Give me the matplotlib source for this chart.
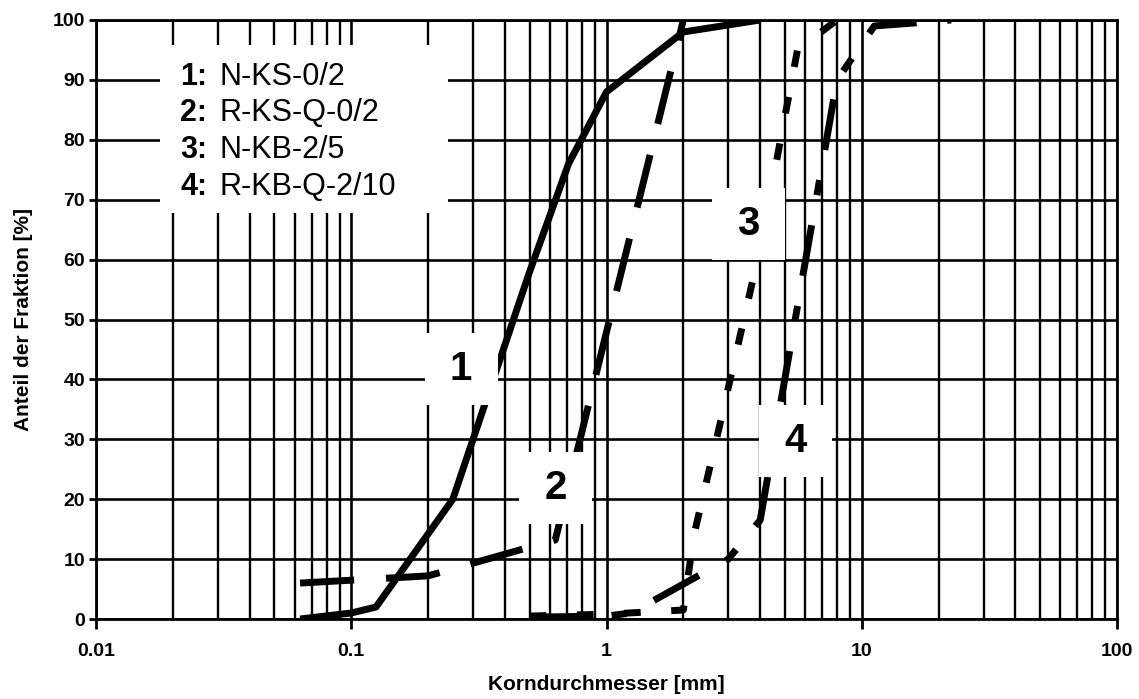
import matplotlib
matplotlib.use("Agg")
import matplotlib.pyplot as plt
from matplotlib.patches import Rectangle
from matplotlib.ticker import FixedLocator, FixedFormatter, NullFormatter, LogLocator

plt.rcParams['font.family'] = ['Liberation Sans', 'DejaVu Sans']
plt.rcParams['lines.scale_dashes'] = False

# ---- data ----
x1 = [0.063, 0.1, 0.125, 0.25, 0.5, 0.71, 1, 2, 4]
y1 = [0, 1, 2, 20, 58, 76, 88, 98, 100]

x2 = [0.063, 0.2, 0.63, 2]
y2 = [6, 7.2, 13.2, 100]

x3 = [0.5, 1, 2, 2.2, 2.8, 4, 5.6, 8]
y3 = [0.5, 0.8, 1.5, 14, 33, 62, 95, 100]

x4 = [0.5, 1, 1.25, 3.0, 4, 8, 11.2, 16, 22.4]
y4 = [0.3, 0.5, 1, 10, 16.5, 90, 99, 99.5, 100]

series_ids = ["1:", "2:", "3:", "4:"]
series_names = ["N-KS-0/2", "R-KS-Q-0/2", "N-KB-2/5", "R-KB-Q-2/10"]
xtick_vals = [0.01, 0.1, 1, 10, 100]
xtick_labels = ["0.01", "0.1", "1", "10", "100"]
ytick_vals = list(range(0, 101, 10))

W, H = 1139, 699
fig = plt.figure(figsize=(W / 100, H / 100), dpi=100)
L, R, T, B = 96, 1117, 20, 619
ax = fig.add_axes([L / W, (H - B) / H, (R - L) / W, (B - T) / H])
ax.set_xscale('log')
ax.set_xlim(0.01, 100)
ax.set_ylim(0, 100)

# grid
ax.xaxis.set_major_locator(FixedLocator(xtick_vals))
ax.xaxis.set_major_formatter(FixedFormatter(xtick_labels))
ax.xaxis.set_minor_locator(LogLocator(base=10, subs=range(2, 10), numticks=20))
ax.xaxis.set_minor_formatter(NullFormatter())
ax.yaxis.set_major_locator(FixedLocator(ytick_vals))
ax.grid(True, which='major', color='black', linewidth=1.9, zorder=1)
ax.grid(True, which='minor', axis='x', color='black', linewidth=1.7, zorder=1)
ax.set_axisbelow(True)
for s in ax.spines.values():
    s.set_linewidth(2.0)
ax.tick_params(axis='x', which='major', direction='out', length=7, width=2,
               labelsize=14, pad=10)
ax.tick_params(axis='x', which='minor', length=0)
ax.tick_params(axis='y', which='major', direction='out', length=5, width=2,
               labelsize=14, pad=3)
for lab in ax.get_xticklabels() + ax.get_yticklabels():
    lab.set_fontweight('bold')

lw = 5
ax.plot(x1, y1, color='black', lw=lw, solid_capstyle='butt', solid_joinstyle='round', zorder=3)
ax.plot(x2, y2, color='black', lw=lw, dashes=(39, 23), dash_capstyle='butt', zorder=3)
ax.plot(x3, y3, color='black', lw=lw, dashes=(12, 22), dash_capstyle='butt', zorder=3)
ax.plot(x4, y4, color='black', lw=lw, dashes=(37, 22, 11, 22), dash_capstyle='butt', zorder=3)

ax.set_xlabel("Korndurchmesser [mm]", fontsize=15, fontweight='bold', labelpad=11)
ax.set_ylabel("Anteil der Fraktion [%]", fontsize=15, fontweight='bold', labelpad=14)

# legend box (white, covers grid)
ax.add_patch(Rectangle((0.0627, 0.6778), 0.2821, 0.2805, transform=ax.transAxes,
                       facecolor='white', edgecolor='none', zorder=4))
leg_y = [0.9048, 0.8448, 0.7830, 0.7212]
for sid, name, yy in zip(series_ids, series_names, leg_y):
    ax.text(0.0823, yy, sid, transform=ax.transAxes, fontsize=22, fontweight='bold',
            va='center', ha='left', zorder=5)
    ax.text(0.1205, yy, name, transform=ax.transAxes, fontsize=22,
            va='center', ha='left', zorder=5)

# curve number labels with white boxes
lab_pos = [(0.3575, 0.4174), (0.4505, 0.2187), (0.6386, 0.6594), (0.6856, 0.2972)]
bw, bh = 73 / (R - L), 72 / (B - T)
for i, (cx, cy) in enumerate(lab_pos):
    ax.add_patch(Rectangle((cx - bw / 2, cy - bh / 2), bw, bh, transform=ax.transAxes,
                           facecolor='white', edgecolor='none', zorder=4))
    ax.text(cx, cy, str(i + 1), transform=ax.transAxes, fontsize=29, fontweight='bold',
            ha='center', va='center', zorder=5)

fig.savefig("out.png", dpi=100)
